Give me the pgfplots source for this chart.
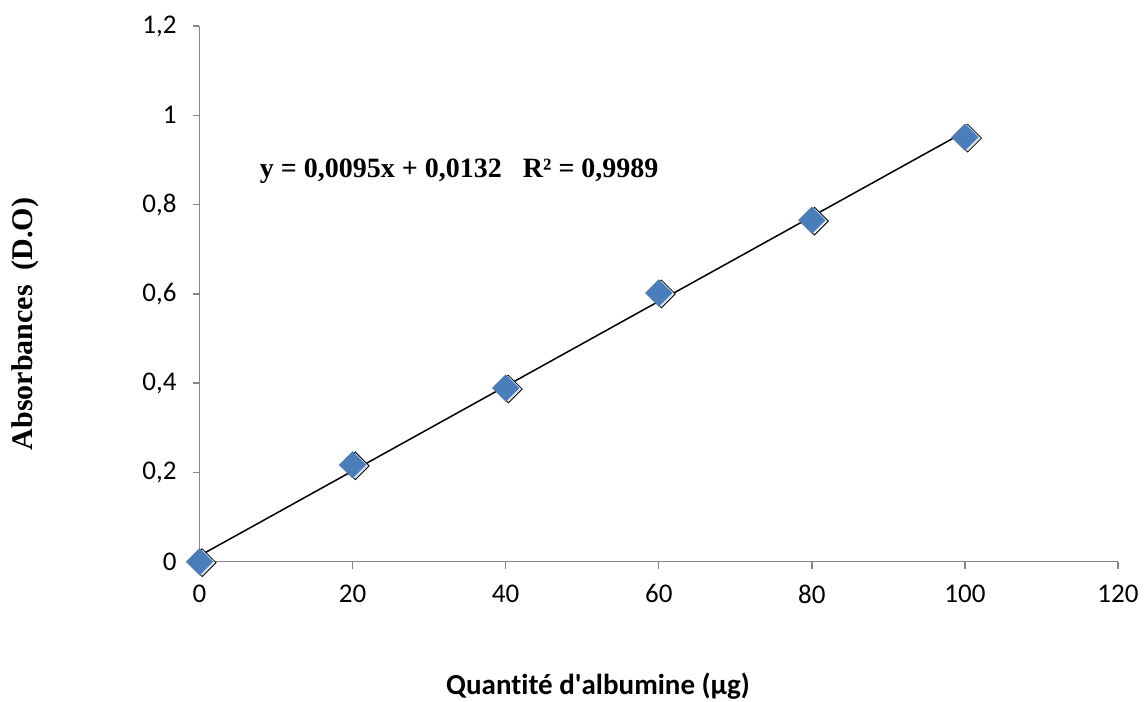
\documentclass[border=0pt]{standalone}
\usepackage{pgfplots}
\pgfplotsset{compat=1.18}
\usepackage{fontspec}
\setmainfont{Carlito}[Ligatures={NoCommon}]
\newfontfamily\timesfont{Liberation Serif}
\definecolor{markblue}{HTML}{4A7EBB}
\definecolor{axisgray}{HTML}{868686}
\begin{document}
\begin{tikzpicture}
% canvas: 1 px of the reference = 0.5pt
\path[use as bounding box] (0,0) rectangle (574pt,351pt);
\begin{axis}[
  at={(99.75pt,70.15pt)}, anchor=south west,
  scale only axis,
  width=459.25pt, height=267.85pt,
  xmin=0, xmax=120, ymin=0, ymax=1.2,
  xtick={0,20,40,60,80,100,120},
  ytick={0,0.2,0.4,0.6,0.8,1,1.2},
  axis lines*=left,
  axis line style={axisgray, line width=0.7pt},
  tick style={axisgray, line width=0.7pt},
  tick align=outside,
  major tick length=3.5pt,
  /pgf/number format/use comma,
  /pgf/number format/assume math mode=true,
  tick label style={font=\fontsize{13.5}{16}\selectfont, black},
  xticklabel style={yshift=-4.5pt},
  yticklabel style={xshift=-4.5pt},
  clip=false,
]
% trend line y = 0.0095x + 0.0132
\addplot[black, line width=0.75pt] coordinates {(0,0.0132) (100,0.9632)};
% soft shadow of the markers
\addplot[only marks, mark=square*, mark size=4.9pt,
  mark options={rotate=45, fill=black!10, draw=none, xshift=0.6pt, yshift=-1.3pt}]
  coordinates {(0,0) (20,0.217) (40,0.389) (60,0.602) (80,0.765) (100,0.951)};
\addplot[only marks, mark=square*, mark size=4.7pt,
  mark options={rotate=45, fill=markblue, draw=markblue, line width=0.2pt}]
  coordinates {(0,0) (20,0.217) (40,0.389) (60,0.602) (80,0.765) (100,0.951)};
\node[anchor=west, inner sep=0pt, font=\timesfont\bfseries\fontsize{14}{16}\selectfont]
  at (axis cs:7.85,0.875) {y = 0,0095x + 0,0132\hspace{0.75em}R² = 0,9989};
\end{axis}
\node[font=\bfseries\fontsize{14.5}{17}\selectfont] at (299pt,8pt) {Quantité d\textquotesingle albumine (µg)};
\node[rotate=90, font=\timesfont\bfseries\fontsize{15}{17}\selectfont] at (12.5pt,189pt) {Absorbances\ \ (D.O)};
\end{tikzpicture}
\end{document}
